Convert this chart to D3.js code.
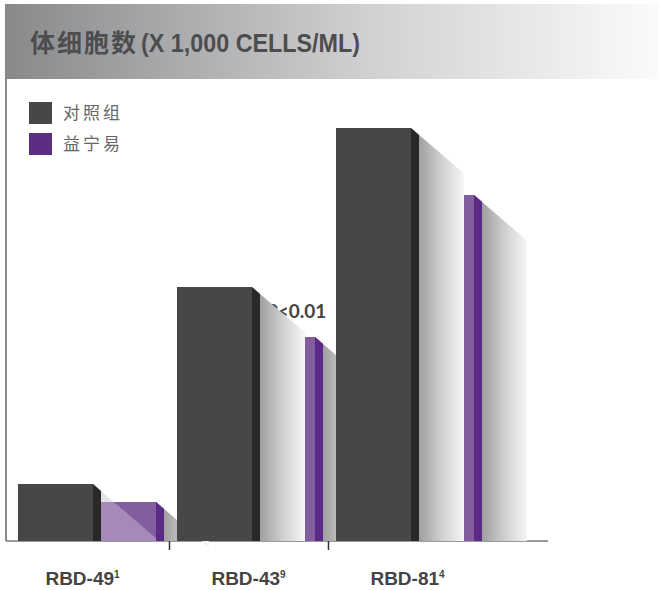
<!DOCTYPE html>
<html>
<head>
<meta charset="utf-8">
<script src="https://cdn.jsdelivr.net/npm/d3@7"></script>
<style>
  body { margin: 0; background: #fff; }
  svg { display: block; }
</style>
</head>
<body>
<script>
// data
const groups = ["RBD-49", "RBD-43", "RBD-81"]
const refs = ["1", "9", "4"]
const control = [57, 254, 413]
const treated = [39, 204, 346]
const pLabels = ["", "P<0.01", ""]
const seriesNames = ["对照组", "益宁易"]
const titleCn = "体细胞数"
const titleEn = "(X 1,000 CELLS/ML)"

const w = 658, h = 590
const base = 541
const cFront = 75, side = 8, pFront = 55, reach = 53, k = 0.86
const grey = "#474749", greySide = "#282828", purple = "#835e9f", purpleSide = "#5b2a86", legendPurple = "#5c2d85"

const svg = d3.select("body").append("svg").attr("width", w).attr("height", h)
const defs = svg.append("defs")

const tg = defs.append("linearGradient").attr("id", "titleGrad")
tg.append("stop").attr("offset", "0%").attr("stop-color", "#88898b")
tg.append("stop").attr("offset", "55%").attr("stop-color", "#d0d0d2")
tg.append("stop").attr("offset", "100%").attr("stop-color", "#fbfbfb")

const sg = defs.append("linearGradient").attr("id", "shadowGrad")
sg.append("stop").attr("offset", "0%").attr("stop-color", "#8e8e8e")
sg.append("stop").attr("offset", "60%").attr("stop-color", "#d2d2d2")
sg.append("stop").attr("offset", "100%").attr("stop-color", "#f6f6f6")

// title band
svg.append("rect").attr("x", 5).attr("y", 4).attr("width", w - 5).attr("height", 75).attr("fill", "url(#titleGrad)")
svg.append("text").attr("x", 30).attr("y", 52).attr("font-family", "Noto Sans CJK SC").attr("font-weight", 700)
  .attr("font-size", 25).attr("letter-spacing", 2).attr("fill", "#4d4d4f").text(titleCn)
svg.append("text").attr("x", 141).attr("y", 52).attr("font-family", "'Liberation Sans Narrow', 'Liberation Sans', sans-serif").attr("font-weight", 700)
  .attr("font-size", 26).attr("textLength", 219).attr("lengthAdjust", "spacingAndGlyphs").attr("fill", "#4d4d4f").text(titleEn)

// frame lines
svg.append("line").attr("x1", 6).attr("x2", 6).attr("y1", 79).attr("y2", base).attr("stroke", "#666").attr("stroke-width", 1.5)

const x = d3.scaleBand().domain(groups).range([10, 487])
const y = d3.scaleLinear().domain([0, 462]).range([base, 79])

const xAxis = svg.append("g").attr("transform", "translate(0," + base + ")")
  .call(d3.axisBottom(x).tickSize(0).tickFormat(""))
xAxis.select(".domain").remove()
svg.append("line").attr("x1", 6).attr("x2", 548).attr("y1", base).attr("y2", base).attr("stroke", "#777").attr("stroke-width", 1.5)
svg.selectAll(".tick-mark").data(groups.slice(1)).enter().append("line").attr("class", "tick-mark")
  .attr("x1", d => x(d) + 0.5).attr("x2", d => x(d) + 0.5).attr("y1", base).attr("y2", base + 9)
  .attr("stroke", "#333").attr("stroke-width", 1.5)

// labels under the groups
const lab = svg.selectAll(".glabel").data(groups).enter().append("text").attr("class", "glabel")
  .attr("x", (d, i) => x(d) + x.bandwidth() / 2 - (i === 0 ? 7 : 0)).attr("y", 585).attr("text-anchor", "middle")
  .attr("font-family", "'Liberation Sans Narrow', 'Liberation Sans', sans-serif").attr("font-weight", 700)
  .attr("font-size", 19).attr("fill", "#444")
lab.append("tspan").text(d => d)
lab.append("tspan").attr("dy", -7).attr("font-size", 10).text((d, i) => refs[i])

// P value note, sits behind the shadows
svg.selectAll(".pnote").data(groups).enter().append("text").attr("class", "pnote")
  .attr("x", d => x(d) + 97).attr("y", (d, i) => y(control[i]) + 31)
  .attr("font-family", "Lato, sans-serif").attr("font-weight", 700).attr("font-size", 19).attr("fill", "#444")
  .text((d, i) => pLabels[i])

function shadowPath(fr, top, len) {
  return "M" + fr + "," + top + "L" + (fr + len) + "," + (top + len * k) + "L" + (fr + len) + "," + base + "L" + fr + "," + base + "Z"
}

groups.forEach((g, i) => {
  const cx = x(g) + 8
  const cTop = y(control[i])
  const px = cx + cFront + side
  const pTop = y(treated[i])
  const layer = svg.append("g")
  const short = base - cTop < 100
  const drawTreated = () => {
    layer.append("rect").attr("x", px).attr("y", pTop).attr("width", pFront).attr("height", base - pTop).attr("fill", purple)
    layer.append("path").attr("d", shadowPath(px + pFront, pTop, side)).attr("fill", purpleSide)
  }
  if (short) {
    // a low control bar: its faint shadow lies on the treated bar's face
    layer.append("path").attr("d", shadowPath(cx + cFront, cTop, reach)).attr("fill", "url(#shadowGrad)").attr("opacity", 0.3)
    drawTreated()
    const cid = "clip" + i
    defs.append("clipPath").attr("id", cid).append("rect").attr("x", px).attr("y", pTop).attr("width", pFront).attr("height", base - pTop)
    layer.append("path").attr("d", shadowPath(cx + cFront, cTop, px + pFront - cx - cFront)).attr("clip-path", "url(#" + cid + ")")
      .attr("fill", "#fff").attr("opacity", 0.28)
  } else {
    drawTreated()
    layer.append("path").attr("d", shadowPath(cx + cFront, cTop, reach)).attr("fill", "url(#shadowGrad)")
  }
  layer.append("rect").attr("x", cx).attr("y", cTop).attr("width", cFront).attr("height", base - cTop).attr("fill", grey)
  layer.append("path").attr("d", shadowPath(cx + cFront, cTop, side)).attr("fill", greySide)
  // treated shadow
  layer.append("path").attr("d", shadowPath(px + pFront, pTop, reach)).attr("fill", "url(#shadowGrad)")
  layer.append("path").attr("d", shadowPath(px + pFront, pTop, side)).attr("fill", purpleSide)
})

// legend
const leg = svg.selectAll(".leg").data(seriesNames).enter().append("g").attr("class", "leg")
  .attr("transform", (d, i) => "translate(29," + (102 + i * 31) + ")")
leg.append("rect").attr("width", 23).attr("height", 22).attr("fill", (d, i) => i === 0 ? grey : legendPurple)
leg.append("text").attr("x", 34).attr("y", 17).attr("font-family", "Noto Sans CJK SC").attr("font-size", 17)
  .attr("letter-spacing", 3).attr("fill", "#666").text(d => d)
</script>
</body>
</html>
